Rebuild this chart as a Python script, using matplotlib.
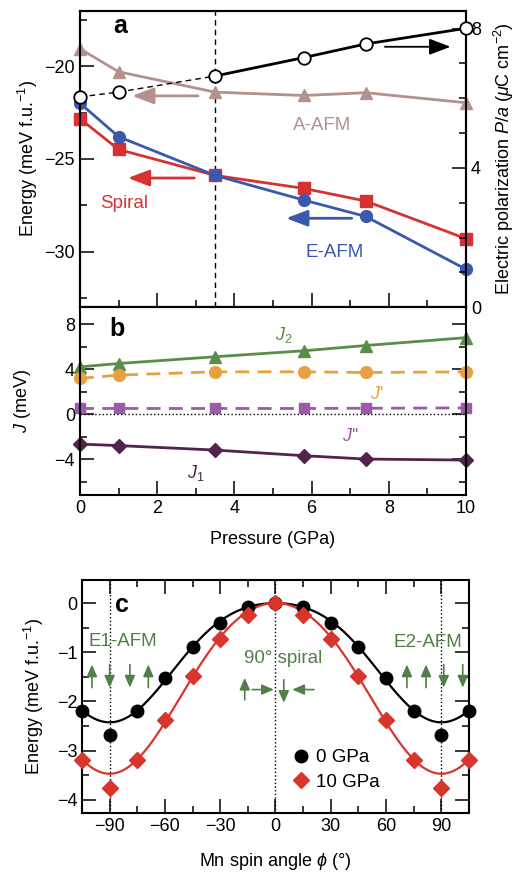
#!/usr/bin/env python3
"""Pressure dependence of magnetic energies, exchange constants and spin-angle energy."""
import matplotlib
matplotlib.use("Agg")
import matplotlib.pyplot as plt
import numpy as np
from matplotlib.ticker import MultipleLocator

plt.rcParams["font.family"] = ["Liberation Sans", "DejaVu Sans"]
plt.rcParams["mathtext.fontset"] = "custom"
plt.rcParams["mathtext.rm"] = "Liberation Sans"
plt.rcParams["mathtext.it"] = "Liberation Sans:italic"
plt.rcParams["font.size"] = 13

# ---- panel a / b: pressure series ----
PRESSURE = [0, 1, 3.5, 5.8, 7.4, 10]
E_AAFM = [-19.06, -20.3, -21.4, -21.58, -21.43, -21.97]
E_EAFM = [-22.0, -23.8, -25.89, -27.22, -28.1, -30.95]
E_SPIRAL = [-22.83, -24.49, -25.89, -26.59, -27.27, -29.3]
POLARIZATION = [6.04, 6.18, 6.64, 7.17, 7.56, 8.01]
P_TRANSITION = 3.5

J2 = [4.2, 4.5, 5.1, 5.63, 6.1, 6.8]
J_PRIME = [3.17, 3.47, 3.76, 3.76, 3.7, 3.76]
J_DPRIME = [0.5, 0.5, 0.5, 0.5, 0.52, 0.55]
J1 = [-2.67, -2.8, -3.2, -3.7, -4.0, -4.09]

# ---- panel c: spin angle scan ----
ANGLE = [-105, -90, -75, -60, -45, -30, -15, 0, 15, 30, 45, 60, 75, 90, 105]
E_0GPA = [-2.2, -2.69, -2.2, -1.52, -0.89, -0.41, -0.08, 0.0,
          -0.08, -0.41, -0.89, -1.52, -2.2, -2.69, -2.2]
E_10GPA = [-3.2, -3.76, -3.2, -2.37, -1.49, -0.73, -0.24, 0.0,
           -0.24, -0.73, -1.49, -2.37, -3.2, -3.76, -3.2]

C_AAFM = "#b3918f"
C_EAFM = "#3a58ad"
C_SPIRAL = "#d63232"
C_J2 = "#5a8e48"
C_JP = "#e9a040"
C_JPP = "#9c5aa8"
C_J1 = "#52234d"
C_GREEN = "#527f48"
C_RED = "#d8352d"


def style_axis(ax):
    for s in ax.spines.values():
        s.set_linewidth(1.5)
    ax.tick_params(which="major", direction="in", length=10, width=1.1)
    ax.tick_params(which="minor", direction="in", length=5, width=1.1)


def fit_curve(angle, energy, phi):
    # least-squares fit E = a(cos2phi - 1) + b(cos4phi - 1), excluding +/-90 points
    ang = np.radians(np.array(angle, float))
    en = np.array(energy, float)
    keep = np.abs(np.abs(np.array(angle)) - 90) > 1
    basis = np.column_stack([np.cos(2 * ang) - 1, np.cos(4 * ang) - 1])[keep]
    coef, *_ = np.linalg.lstsq(basis, en[keep], rcond=None)
    p = np.radians(phi)
    return coef[0] * (np.cos(2 * p) - 1) + coef[1] * (np.cos(4 * p) - 1)


fig = plt.figure(figsize=(5.15, 8.72), dpi=100)
ax_a = fig.add_axes([0.1553, 0.6476, 0.7495, 0.3403])
ax_b = fig.add_axes([0.1553, 0.4323, 0.7495, 0.2153])
ax_c = fig.add_axes([0.1592, 0.0677, 0.7515, 0.2672])

# ---------------- panel a ----------------
ax_p = ax_a.twinx()
ax_a.plot(PRESSURE, E_AAFM, "-^", color=C_AAFM, lw=2, ms=8.5, clip_on=False, zorder=3)
ax_a.plot(PRESSURE, E_SPIRAL, "-s", color=C_SPIRAL, lw=2, ms=8, clip_on=False, zorder=3)
ax_a.plot(PRESSURE, E_EAFM, "-o", color=C_EAFM, lw=2, ms=8.5, clip_on=False, zorder=4)
ax_a.axvline(P_TRANSITION, color="black", ls=(0, (4, 3)), lw=1)
ax_a.set_xlim(0, 10)
ax_a.set_ylim(-33, -17)
ax_a.yaxis.set_major_locator(MultipleLocator(5))
ax_a.yaxis.set_minor_locator(MultipleLocator(2.5))
ax_a.xaxis.set_major_locator(MultipleLocator(2))
ax_a.xaxis.set_minor_locator(MultipleLocator(1))
style_axis(ax_a)
ax_a.tick_params(labelbottom=False, right=False)
ax_a.set_ylabel("Energy (meV f.u.$^{-1}$)")
ax_a.yaxis.set_label_coords(-0.103, 0.5)

i_t = PRESSURE.index(P_TRANSITION)
ax_p.plot(PRESSURE[:i_t + 1], POLARIZATION[:i_t + 1], color="black", ls=(0, (4, 3)), lw=1)
ax_p.plot(PRESSURE[i_t:], POLARIZATION[i_t:], color="black", lw=2)
ax_p.plot(PRESSURE, POLARIZATION, "o", mfc="white", mec="black", mew=1.3, ms=9,
          clip_on=False, zorder=5)
ax_p.set_ylim(0, 8.52)
ax_p.yaxis.set_major_locator(MultipleLocator(4))
ax_p.yaxis.set_minor_locator(MultipleLocator(1))
style_axis(ax_p)
ax_p.set_ylabel("Electric polarization $P/a$ ($\\mu$C cm$^{-2}$)")
ax_p.yaxis.set_label_coords(1.068, 0.5)

arrow_kw = dict(arrowstyle="-|>,head_length=1.0,head_width=0.38", lw=2, shrinkA=0, shrinkB=0)
ax_p.annotate("", xy=(9.6, 7.48), xytext=(7.9, 7.48),
              arrowprops=dict(color="black", **{**arrow_kw, "lw": 1.3}))
ax_a.annotate("", xy=(1.35, -21.6), xytext=(3.06, -21.6), arrowprops=dict(color=C_AAFM, **arrow_kw))
ax_a.annotate("", xy=(1.24, -26.03), xytext=(2.96, -26.03), arrowprops=dict(color=C_SPIRAL, **arrow_kw))
ax_a.annotate("", xy=(5.34, -28.2), xytext=(7.04, -28.2), arrowprops=dict(color=C_EAFM, **arrow_kw))
ax_a.text(6.27, -23.2, "A-AFM", color=C_AAFM, ha="center", va="center", fontsize=13.5)
ax_a.text(1.15, -27.4, "Spiral", color=C_SPIRAL, ha="center", va="center", fontsize=13.5)
ax_a.text(6.6, -30.05, "E-AFM", color=C_EAFM, ha="center", va="center", fontsize=13.5)
ax_a.text(1.05, -17.85, "a", fontsize=18, fontweight="bold", ha="center", va="center")

# ---------------- panel b ----------------
ax_b.plot(PRESSURE, J2, "-^", color=C_J2, lw=2, ms=8.5, clip_on=False)
ax_b.plot(PRESSURE, J_PRIME, "--o", color=C_JP, lw=2, ms=8.5, dashes=(5, 3), clip_on=False)
ax_b.plot(PRESSURE, J_DPRIME, "--s", color=C_JPP, lw=2, ms=7.5, dashes=(5, 3), clip_on=False)
ax_b.plot(PRESSURE, J1, "-D", color=C_J1, lw=2, ms=7.5, clip_on=False)
ax_b.axhline(0, color="black", ls=":", lw=1)
ax_b.set_xlim(0, 10)
ax_b.set_ylim(-7.2, 9.5)
ax_b.yaxis.set_major_locator(MultipleLocator(4))
ax_b.yaxis.set_minor_locator(MultipleLocator(2))
ax_b.xaxis.set_major_locator(MultipleLocator(2))
ax_b.xaxis.set_minor_locator(MultipleLocator(1))
style_axis(ax_b)
ax_b.tick_params(which="both", right=True)
ax_b.set_xlabel("Pressure (GPa)")
ax_b.xaxis.set_label_coords(0.5, -0.19)
ax_b.set_ylabel("$J$ (meV)")
ax_b.yaxis.set_label_coords(-0.122, 0.5)
ax_b.text(5.27, 7.0, "$J_2$", color=C_J2, ha="center", va="center")
ax_b.text(7.7, 1.7, "$J$'", color=C_JP, ha="center", va="center")
ax_b.text(7.0, -2.0, "$J$''", color=C_JPP, ha="center", va="center")
ax_b.text(3.0, -5.2, "$J_1$", color=C_J1, ha="center", va="center")
ax_b.text(0.95, 7.6, "b", fontsize=18, fontweight="bold", ha="center", va="center")

# ---------------- panel c ----------------
phi = np.linspace(-105, 105, 400)
for a in (-90, 0, 90):
    ax_c.axvline(a, color="black", ls=":", lw=1)
ax_c.plot(phi, fit_curve(ANGLE, E_0GPA, phi), color="black", lw=1.6)
ax_c.plot(phi, fit_curve(ANGLE, E_10GPA, phi), color=C_RED, lw=1.6)
ax_c.plot(ANGLE, E_0GPA, "o", color="black", ms=9, clip_on=False, label="0 GPa", zorder=4)
ax_c.plot(ANGLE, E_10GPA, "D", color=C_RED, ms=8, clip_on=False, label="10 GPa", zorder=4)
ax_c.set_xlim(-105, 105)
ax_c.set_ylim(-4.27, 0.47)
ax_c.xaxis.set_major_locator(MultipleLocator(30))
ax_c.xaxis.set_minor_locator(MultipleLocator(15))
ax_c.yaxis.set_major_locator(MultipleLocator(1))
ax_c.yaxis.set_minor_locator(MultipleLocator(0.5))
style_axis(ax_c)
ax_c.tick_params(which="both", top=True, right=True)
ax_c.set_xlabel("Mn spin angle $\\phi$ (°)")
ax_c.xaxis.set_label_coords(0.5, -0.165)
ax_c.set_ylabel("Energy (meV f.u.$^{-1}$)")
ax_c.yaxis.set_label_coords(-0.094, 0.5)
ax_c.legend(loc="upper left", bbox_to_anchor=(0.528, 0.315), frameon=False,
            handlelength=0.6, handletextpad=0.5, borderpad=0, labelspacing=0.4,
            fontsize=13.5)
ax_c.text(-83.5, -0.03, "c", fontsize=18, fontweight="bold", ha="center", va="center")
ax_c.text(-82.6, -0.78, "E1-AFM", color=C_GREEN, ha="center", va="center", fontsize=13.5)
ax_c.text(82.6, -0.8, "E2-AFM", color=C_GREEN, ha="center", va="center", fontsize=13.5)
ax_c.text(4.2, -1.12, "90° spiral", color=C_GREEN, ha="center", va="center", fontsize=13.5)

spin_kw = dict(arrowstyle="-|>,head_length=0.55,head_width=0.24", color=C_GREEN, lw=1.2,
               shrinkA=0, shrinkB=0)
UP_SPINS = [-99.6, -69, 71.3, 81.7]
DOWN_SPINS = [-90, -79, 91.3, 101.6]
for x in UP_SPINS:
    ax_c.annotate("", xy=(x, -1.25), xytext=(x, -1.72), arrowprops=spin_kw)
for x in DOWN_SPINS:
    ax_c.annotate("", xy=(x, -1.72), xytext=(x, -1.25), arrowprops=spin_kw)
ax_c.annotate("", xy=(-16.7, -1.52), xytext=(-16.7, -1.97), arrowprops=spin_kw)
ax_c.annotate("", xy=(-0.9, -1.76), xytext=(-12.7, -1.76), arrowprops=spin_kw)
ax_c.annotate("", xy=(4.5, -2.03), xytext=(4.5, -1.56), arrowprops=spin_kw)
ax_c.annotate("", xy=(9.1, -1.76), xytext=(20.8, -1.76), arrowprops=spin_kw)

fig.savefig("out.png", dpi=100)
